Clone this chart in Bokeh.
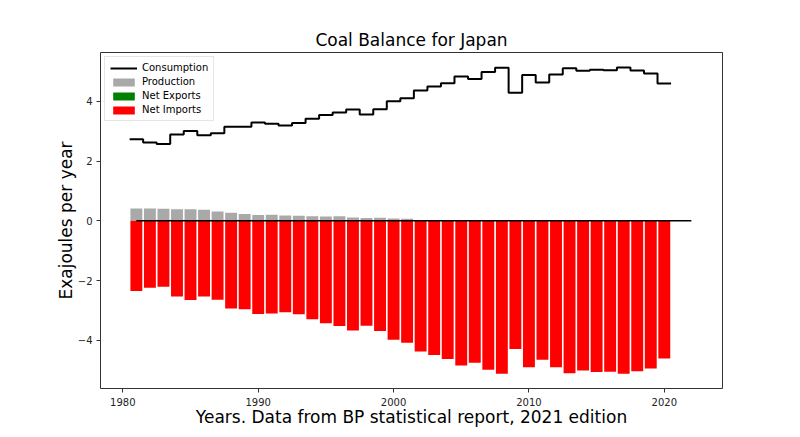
from bokeh.plotting import figure
from bokeh.models import (Legend, LegendItem, ColumnDataSource, Range1d,
                          FixedTicker)
from bokeh.embed import file_html
from bokeh.resources import INLINE

# ---------------- data ----------------
years = list(range(1981, 2021))
consumption = [2.73, 2.62, 2.57, 2.89, 3.00, 2.86, 2.93, 3.15, 3.15, 3.29,
               3.25, 3.19, 3.27, 3.41, 3.54, 3.62, 3.72, 3.56, 3.73, 4.00,
               4.10, 4.36, 4.49, 4.60, 4.83, 4.74, 4.98, 5.12, 4.28, 4.88,
               4.63, 4.89, 5.10, 5.02, 5.05, 5.04, 5.13, 5.03, 4.93, 4.59]
production = [0.41, 0.41, 0.40, 0.39, 0.39, 0.37, 0.31, 0.27, 0.23, 0.19,
              0.20, 0.18, 0.17, 0.15, 0.14, 0.15, 0.11, 0.09, 0.10, 0.08,
              0.07, 0.03, 0.01, 0.01, 0.01, 0.01, 0.01, 0.01, 0.01, 0.01,
              0.01, 0.01, 0.01, 0.01, 0.01, 0.01, 0.01, 0.01, 0.01, 0.01]
net_imports = [-2.35, -2.24, -2.21, -2.53, -2.65, -2.53, -2.64, -2.93, -2.96, -3.12,
               -3.10, -3.06, -3.13, -3.29, -3.43, -3.52, -3.67, -3.51, -3.69, -3.98,
               -4.08, -4.37, -4.49, -4.62, -4.84, -4.75, -4.98, -5.12, -4.29, -4.90,
               -4.65, -4.90, -5.10, -5.01, -5.06, -5.05, -5.12, -5.03, -4.94, -4.61]
net_exports = [0.0] * 40    # Japan has no net exports in this period
zero_line_years = [1981, 2022]
zero_line_values = [0, 0]
x_ticks = [1980, 1990, 2000, 2010, 2020]
y_ticks = [-4, -2, 0, 2, 4]
y_tick_labels = ["\u22124", "\u22122", "0", "2", "4"]

FONT = "DejaVu Sans"

# step edges: each year's consumption spans year-0.5 .. year+0.5
step_x = [y - 0.5 for y in years] + [years[-1] + 0.5]
step_y = consumption + [consumption[-1]]

bars = ColumnDataSource(dict(year=years, production=production,
                             imports=net_imports, exports=net_exports))

p = figure(width=800, height=437, output_backend="svg", toolbar_location=None,
           x_range=Range1d(1978.35, 2024.3), y_range=Range1d(-5.61, 5.63),
           min_border_left=100, min_border_right=78, min_border_top=52,
           min_border_bottom=49)

p.title.text = "Coal Balance for Japan"
p.title.align = "center"
p.title.text_font = FONT
p.title.text_font_size = "17px"
p.title.text_font_style = "normal"
p.title.text_color = "black"
p.title.standoff = 5

r_prod = p.vbar(x="year", top="production", bottom=0, width=0.88, source=bars,
                fill_color="#a9a9a9", line_color=None)
r_imp = p.vbar(x="year", top=0, bottom="imports", width=0.88, source=bars,
               fill_color="#ff0000", line_color=None)
r_exp = p.vbar(x="year", top="exports", bottom=0, width=0.88, source=bars,
               fill_color="#008000", line_color=None)
r_cons = p.step(step_x, step_y, mode="after", line_color="black", line_width=2)
p.line(zero_line_years, zero_line_values, line_color="black", line_width=1.6)

legend = Legend(items=[
    LegendItem(label="Consumption", renderers=[r_cons]),
    LegendItem(label="Production", renderers=[r_prod]),
    LegendItem(label="Net Exports", renderers=[r_exp]),
    LegendItem(label="Net Imports", renderers=[r_imp]),
], location="top_left")
legend.label_text_font = FONT
legend.label_text_font_size = "10px"
legend.label_text_color = "black"
legend.glyph_width = 27
legend.glyph_height = 10
legend.label_height = 10
legend.label_standoff = 5
legend.spacing = 3
legend.padding = 5
legend.margin = 4
legend.border_line_color = "#cccccc"
legend.border_line_width = 1
legend.background_fill_alpha = 0.8
p.add_layout(legend)

p.xgrid.visible = False
p.ygrid.visible = False
p.outline_line_color = "#333333"
p.outline_line_width = 1

for ax in (p.xaxis, p.yaxis):
    ax.axis_line_color = None
    ax.major_tick_in = 0
    ax.major_tick_out = 4
    ax.minor_tick_in = 0
    ax.minor_tick_out = 0
    ax.major_tick_line_color = "#333333"
    ax.major_label_text_font = FONT
    ax.major_label_text_font_size = "10px"
    ax.major_label_text_color = "#222222"
    ax.axis_label_text_font = FONT
    ax.axis_label_text_font_size = "17px"
    ax.axis_label_text_font_style = "normal"
    ax.axis_label_text_color = "black"

p.xaxis.ticker = FixedTicker(ticks=x_ticks, minor_ticks=[])
p.yaxis.ticker = FixedTicker(ticks=y_ticks, minor_ticks=[])
p.yaxis.major_label_overrides = dict(zip(y_ticks, y_tick_labels))
p.xaxis.major_label_standoff = 5
p.yaxis.major_label_standoff = 4
p.xaxis.axis_label = "Years. Data from BP statistical report, 2021 edition"
p.yaxis.axis_label = "Exajoules per year"
p.xaxis.axis_label_standoff = -2
p.yaxis.axis_label_standoff = -1

open("out.html", "w").write(file_html(p, INLINE))
